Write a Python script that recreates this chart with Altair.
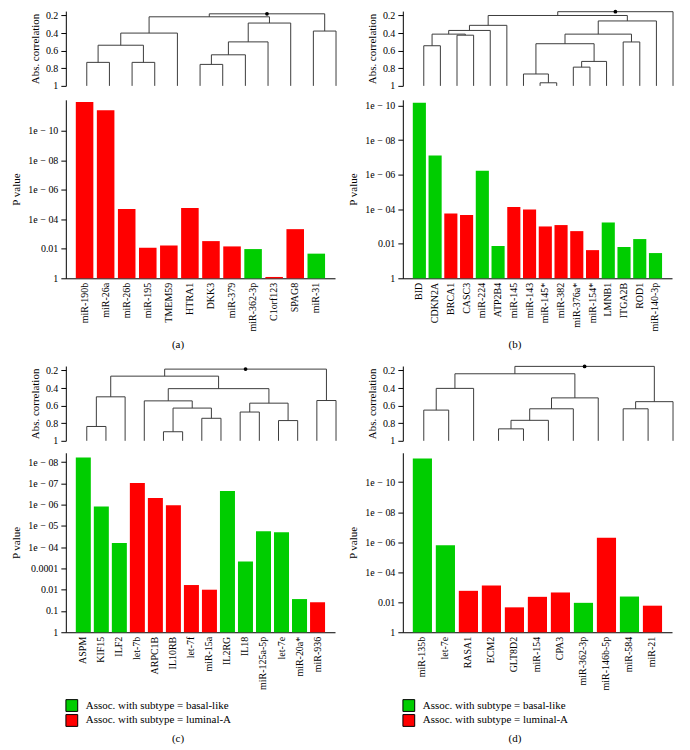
import altair as alt
import pandas as pd

FONT = "Liberation Serif"
GREEN = "#00CD00"
RED = "#FF0000"
LINE = "#3c3c3c"
SUBTYPES = ["basal-like", "luminal-A"]
B, L = "basal-like", "luminal-A"

# ---------------- Panel (a) ----------------
a_genes = ["miR-190b", "miR-26a", "miR-26b", "miR-195", "TMEM59", "HTRA1", "DKK3",
           "miR-379", "miR-362-3p", "C1orf123", "SPAG8", "miR-31"]
a_neglog10p = [11.94, 11.38, 4.69, 2.07, 2.23, 4.77, 2.52, 2.16, 1.98, 0.09, 3.33, 1.67]
a_subtype = [L, L, L, L, L, L, L, L, B, L, L, B]
a_ticks = [0, 2, 4, 6, 8, 10]
a_ticklabels = ["1", "0.01", "1e − 04", "1e − 06", "1e − 08", "1e − 10"]
a_merges = [(-1, -2, 0.733), (-3, -4, 0.733), (1, 2, 0.538), (3, -5, 0.40),
            (-6, -7, 0.756), (5, -8, 0.647), (6, -9, 0.50), (7, -10, 0.286),
            (4, 8, 0.215), (-11, -12, 0.377), (9, 10, 0.181)]

# ---------------- Panel (b) ----------------
b_genes = ["BID", "CDKN2A", "BRCA1", "CASC3", "miR-224", "ATP2B4", "miR-145", "miR-143",
           "miR-145*", "miR-382", "miR-376a*", "miR-154*", "LMNB1", "ITGA2B", "ROD1", "miR-140-3p"]
b_neglog10p = [10.16, 7.10, 3.75, 3.67, 6.23, 1.87, 4.12, 3.98, 3.0, 3.08, 2.73, 1.63,
               3.23, 1.81, 2.27, 1.46]
b_subtype = [B, B, L, L, B, B, L, L, L, L, L, L, B, B, B, B]
b_ticks = [0, 2, 4, 6, 8, 10]
b_ticklabels = ["1", "0.01", "1e − 04", "1e − 06", "1e − 08", "1e − 10"]
b_merges = [(-1, -2, 0.544), (-3, -4, 0.424), (1, 2, 0.412), (3, -5, 0.370),
            (4, -6, 0.312), (-8, -9, 0.965), (-7, 6, 0.865), (-10, -11, 0.787),
            (8, -12, 0.722), (7, 9, 0.521), (-13, -14, 0.501), (10, 11, 0.412),
            (12, -15, 0.262), (5, 13, 0.200), (14, -16, 0.157)]

# ---------------- Panel (c) ----------------
c_genes = ["ASPM", "KIF15", "ILF2", "let-7b", "ARPC1B", "IL10RB", "let-7f", "miR-15a",
           "IL2RG", "IL18", "miR-125a-5p", "let-7e", "miR-20a*", "miR-936"]
c_barheight = [8.22, 5.91, 4.20, 7.02, 6.31, 5.97, 2.22, 2.0, 6.64, 3.33, 4.75, 4.70, 1.56, 1.41]
c_subtype = [B, B, B, L, L, L, L, L, B, B, B, B, B, L]
c_ticks = [0, 1, 2, 3, 4, 5, 6, 7, 8]
c_ticklabels = ["1", "0.1", "0.01", "0.0001", "1e − 04", "1e − 05", "1e − 06", "1e − 07", "1e − 08"]
c_merges = [(-1, -2, 0.837), (1, -3, 0.50), (-5, -6, 0.897), (-7, -8, 0.744),
            (3, 4, 0.628), (-4, 5, 0.546), (-9, -10, 0.673), (-11, -12, 0.77),
            (7, 8, 0.572), (6, 9, 0.407), (2, 10, 0.265), (-13, -14, 0.542),
            (11, 12, 0.185)]

# ---------------- Panel (d) ----------------
d_genes = ["miR-135b", "let-7e", "RASA1", "ECM2", "GLT8D2", "miR-154", "CPA3",
           "miR-362-3p", "miR-146b-5p", "miR-584", "miR-21"]
d_neglog10p = [11.58, 5.80, 2.76, 3.11, 1.66, 2.36, 2.65, 1.96, 6.29, 2.38, 1.77]
d_subtype = [B, B, L, L, L, L, L, B, L, B, L]
d_ticks = [0, 2, 4, 6, 8, 10]
d_ticklabels = ["1", "0.01", "1e − 04", "1e − 06", "1e − 08", "1e − 10"]
d_merges = [(-1, -2, 0.651), (1, -3, 0.404), (-4, -5, 0.864), (3, -6, 0.767),
            (4, -7, 0.636), (5, -8, 0.512), (2, 6, 0.238), (-9, -10, 0.636),
            (8, -11, 0.555), (7, 9, 0.154)]

corr_ticks = [0.2, 0.4, 0.6, 0.8, 1]
corr_ticklabels = ["0.2", "0.4", "0.6", "0.8", "1"]
legend_labels = ["Assoc. with subtype = basal-like", "Assoc. with subtype = luminal-A"]

# layout sizes
DW, DH = 280, 75
BW, BH = 270, 179


def label_expr(vals, labels):
    expr = "''"
    for v, l in reversed(list(zip(vals, labels))):
        expr = f"abs(datum.value - {v}) < 0.001 ? '{l}' : " + expr
    return expr


def dendro_data(merges):
    xs, hs, segs = {}, {}, []

    def pos(c):
        return (float(-c), 1.0) if c < 0 else (xs[c], hs[c])

    for k, (a, b, h) in enumerate(merges, start=1):
        xa, ha = pos(a)
        xb, hb = pos(b)
        segs.append(dict(x=xa, x2=xa, y=ha, y2=h))
        segs.append(dict(x=xb, x2=xb, y=hb, y2=h))
        segs.append(dict(x=xa, x2=xb, y=h, y2=h))
        xs[k], hs[k] = (xa + xb) / 2, h
    k = len(merges)
    return pd.DataFrame(segs), pd.DataFrame([dict(x=xs[k], y=hs[k])])


def dendro_chart(merges, n):
    segs, root = dendro_data(merges)
    step = 250.0 / (n - 1)
    lo = 1 - 21.0 / step
    hi = lo + DW / step
    xs = alt.Scale(domain=[lo, hi], nice=False, zero=False)
    ys = alt.Scale(domain=[0.15, 1], reverse=True, nice=False, zero=False)
    yaxis = alt.Axis(values=corr_ticks, labelExpr=label_expr(corr_ticks, corr_ticklabels),
                     title="Abs. correlation", titlePadding=5, labelOverlap=False,
                     tickSize=5, labelPadding=3)
    lines = alt.Chart(segs).mark_rule(color=LINE, strokeWidth=1).encode(
        x=alt.X("x:Q", scale=xs, axis=None),
        x2="x2:Q",
        y=alt.Y("y:Q", scale=ys, axis=yaxis),
        y2="y2:Q",
    )
    dot = alt.Chart(root).mark_point(filled=True, color="black", size=14, opacity=1).encode(
        x=alt.X("x:Q", scale=xs, axis=None), y=alt.Y("y:Q", scale=ys, axis=yaxis))
    return alt.layer(lines, dot).properties(width=DW, height=DH)


def bar_chart(genes, heights, subtypes, ticks, ticklabels, top, h=BH):
    n = len(genes)
    df = pd.DataFrame({"gene": genes, "h": heights, "subtype": subtypes})
    return alt.Chart(df).mark_bar().encode(
        x=alt.X("gene:N", sort=None,
                scale=alt.Scale(paddingInner=1 / 6, paddingOuter=0.04 * (n - 1 / 6)),
                axis=alt.Axis(title=None, labelAngle=270, ticks=False, labelPadding=4,
                              labelAlign="right", labelBaseline="middle")),
        y=alt.Y("h:Q", scale=alt.Scale(domain=[0, top], nice=False),
                axis=alt.Axis(values=ticks, labelExpr=label_expr(ticks, ticklabels),
                              labelOverlap=False,
                              title="P value", titlePadding=6, tickSize=5, labelPadding=3)),
        color=alt.Color("subtype:N", scale=alt.Scale(domain=SUBTYPES, range=[GREEN, RED]),
                        legend=None),
    ).properties(width=BW, height=h)


def legend_chart():
    df = pd.DataFrame({"label": legend_labels, "subtype": SUBTYPES})
    base = alt.Chart(df).encode(
        y=alt.Y("label:N", sort=None, axis=None, scale=alt.Scale(padding=0.5)))
    sq = base.mark_square(size=140, stroke="black", strokeWidth=1, opacity=1).encode(
        x=alt.value(6),
        color=alt.Color("subtype:N", scale=alt.Scale(domain=SUBTYPES, range=[GREEN, RED]),
                        legend=None))
    tx = base.mark_text(align="left", baseline="middle", font=FONT, fontSize=11,
                        color="black").encode(x=alt.value(20), text="label:N")
    return alt.layer(sq, tx).properties(width=BW, height=30)


def caption(t, off=8):
    return alt.TitleParams(t, orient="bottom", anchor="middle", offset=off,
                           font=FONT, fontSize=11, fontWeight="normal")


BH2 = 180
pa = alt.vconcat(dendro_chart(a_merges, len(a_genes)),
                 bar_chart(a_genes, a_neglog10p, a_subtype, a_ticks, a_ticklabels, BH / 14.8),
                 spacing=9, title=caption("(a)"))
pb = alt.vconcat(dendro_chart(b_merges, len(b_genes)),
                 bar_chart(b_genes, b_neglog10p, b_subtype, b_ticks, b_ticklabels, BH / 17.33),
                 spacing=9, title=caption("(b)"))
pc = alt.vconcat(dendro_chart(c_merges, len(c_genes)),
                 bar_chart(c_genes, c_barheight, c_subtype, c_ticks, c_ticklabels, BH2 / 21.33, BH2),
                 legend_chart(),
                 spacing=7, title=caption("(c)", 5))
pd_ = alt.vconcat(dendro_chart(d_merges, len(d_genes)),
                  bar_chart(d_genes, d_neglog10p, d_subtype, d_ticks, d_ticklabels, BH2 / 15.05, BH2),
                  legend_chart(),
                  spacing=7, title=caption("(d)", 5))

chart = alt.vconcat(
    alt.hconcat(pa, pb, spacing=2),
    alt.hconcat(pc, pd_, spacing=2),
    spacing=14,
).configure_view(stroke=None).configure_axis(
    labelFont=FONT, titleFont=FONT, labelColor="black", titleColor="black",
    domainColor="black", tickColor="black", grid=False, labelFontSize=10,
    titleFontSize=11, titleFontWeight="normal", domainWidth=1, tickWidth=1,
).configure_title(font=FONT, fontSize=11, fontWeight="normal", color="black"
).properties(background="white", padding={"left": 2, "top": 0, "right": 0, "bottom": 0})

chart.save("out.html", embed_options={"renderer": "svg", "actions": False})
